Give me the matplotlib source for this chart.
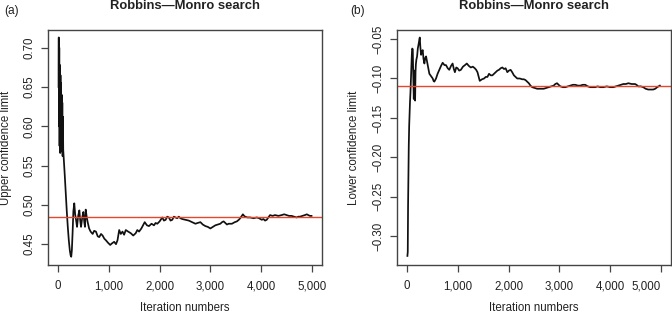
import matplotlib
matplotlib.use("Agg")
import matplotlib.pyplot as plt
from matplotlib.ticker import FuncFormatter

plt.rcParams["font.family"] = ["Liberation Sans", "DejaVu Sans"]

# panel (a): upper confidence limit, (iteration, value)
upper_points = [
    (8, 0.650), (12, 0.713), (16, 0.600), (22, 0.700), (28, 0.575), (34, 0.678),
    (40, 0.566), (46, 0.665), (52, 0.570), (58, 0.655), (64, 0.575), (70, 0.640),
    (76, 0.568), (82, 0.630), (88, 0.562), (94, 0.612), (100, 0.570), (110, 0.560),
    (130, 0.538), (150, 0.515), (170, 0.492), (190, 0.472), (210, 0.455), (230, 0.442),
    (245, 0.436), (258, 0.434), (270, 0.442), (285, 0.465), (300, 0.492), (318, 0.502),
    (335, 0.488), (355, 0.480), (372, 0.472), (395, 0.486), (418, 0.493), (435, 0.480),
    (451, 0.472), (475, 0.484), (497, 0.491), (515, 0.478), (529, 0.472), (543, 0.494),
    (562, 0.485), (582, 0.478), (610, 0.470), (640, 0.466), (680, 0.463), (710, 0.467),
    (745, 0.466), (780, 0.460), (810, 0.459), (845, 0.463), (876, 0.461), (910, 0.457),
    (941, 0.455), (980, 0.452), (1026, 0.449), (1060, 0.451), (1104, 0.453), (1140, 0.450),
    (1170, 0.455), (1203, 0.468), (1235, 0.463), (1268, 0.466), (1300, 0.462), (1333, 0.468),
    (1380, 0.466), (1431, 0.464), (1480, 0.461), (1529, 0.464), (1560, 0.468), (1595, 0.466),
    (1640, 0.470), (1706, 0.478), (1750, 0.474), (1790, 0.473), (1840, 0.476), (1889, 0.474),
    (1920, 0.477), (1954, 0.476), (2000, 0.479), (2052, 0.484), (2085, 0.480), (2118, 0.481),
    (2150, 0.485), (2182, 0.484), (2215, 0.480), (2249, 0.481), (2280, 0.485), (2314, 0.484),
    (2345, 0.483), (2378, 0.485), (2410, 0.483), (2445, 0.482), (2510, 0.481), (2575, 0.480),
    (2640, 0.478), (2706, 0.476), (2750, 0.477), (2804, 0.478), (2850, 0.475), (2902, 0.473),
    (2950, 0.472), (3000, 0.470), (3050, 0.472), (3098, 0.474), (3150, 0.475), (3196, 0.476),
    (3230, 0.478), (3261, 0.479), (3295, 0.477), (3327, 0.475), (3360, 0.476), (3425, 0.476),
    (3480, 0.478), (3523, 0.479), (3560, 0.481), (3588, 0.483), (3620, 0.486), (3641, 0.488),
    (3665, 0.486), (3686, 0.485), (3730, 0.484), (3784, 0.484), (3850, 0.483), (3915, 0.484),
    (3960, 0.483), (4013, 0.481), (4045, 0.482), (4078, 0.480), (4110, 0.481), (4143, 0.484),
    (4176, 0.487), (4225, 0.486), (4275, 0.487), (4340, 0.486), (4405, 0.487), (4455, 0.488),
    (4503, 0.487), (4550, 0.486), (4601, 0.486), (4650, 0.485), (4699, 0.484), (4735, 0.485),
    (4765, 0.485), (4815, 0.486), (4863, 0.487), (4900, 0.488), (4928, 0.487), (4960, 0.486),
    (4994, 0.486),
]
upper_ref = 0.485

# panel (b): lower confidence limit, (iteration, value)
lower_points = [
    (5, -0.325), (12, -0.320), (18, -0.262), (25, -0.225), (32, -0.185), (40, -0.160),
    (48, -0.145), (56, -0.130), (65, -0.118), (75, -0.100), (85, -0.080), (92, -0.070),
    (100, -0.062), (111, -0.063), (120, -0.095), (131, -0.126), (138, -0.100), (144, -0.090),
    (150, -0.112), (157, -0.128), (165, -0.092), (172, -0.082), (182, -0.076), (196, -0.072),
    (210, -0.062), (222, -0.058), (235, -0.053), (241, -0.050), (249, -0.048), (260, -0.060),
    (275, -0.070), (290, -0.066), (307, -0.064), (322, -0.075), (340, -0.081), (356, -0.074),
    (373, -0.072), (390, -0.078), (406, -0.083), (420, -0.088), (438, -0.094), (470, -0.097),
    (504, -0.100), (520, -0.103), (536, -0.104), (552, -0.102), (569, -0.100), (600, -0.094),
    (634, -0.089), (668, -0.084), (700, -0.080), (735, -0.083), (765, -0.083), (800, -0.087),
    (830, -0.089), (865, -0.084), (896, -0.081), (920, -0.088), (941, -0.092), (968, -0.086),
    (994, -0.087), (1026, -0.090), (1059, -0.089), (1100, -0.085), (1140, -0.083), (1176, -0.081),
    (1215, -0.084), (1255, -0.086), (1295, -0.085), (1333, -0.087), (1360, -0.089), (1386, -0.092),
    (1410, -0.098), (1431, -0.103), (1475, -0.101), (1516, -0.100), (1549, -0.098), (1582, -0.098),
    (1614, -0.094), (1647, -0.096), (1680, -0.096), (1712, -0.094), (1745, -0.092), (1778, -0.090),
    (1810, -0.089), (1843, -0.087), (1876, -0.086), (1910, -0.088), (1941, -0.087), (1974, -0.092),
    (2005, -0.090), (2039, -0.089), (2070, -0.092), (2104, -0.096), (2137, -0.098), (2170, -0.100),
    (2220, -0.100), (2268, -0.101), (2300, -0.101), (2333, -0.102), (2365, -0.104), (2398, -0.106),
    (2430, -0.109), (2464, -0.111), (2510, -0.112), (2562, -0.113), (2630, -0.113), (2692, -0.113),
    (2740, -0.112), (2790, -0.111), (2840, -0.110), (2888, -0.109), (2920, -0.107), (2954, -0.106),
    (2985, -0.108), (3020, -0.110), (3070, -0.111), (3118, -0.111), (3165, -0.110), (3216, -0.109),
    (3265, -0.108), (3314, -0.108), (3365, -0.109), (3412, -0.109), (3460, -0.108), (3510, -0.108),
    (3560, -0.110), (3608, -0.111), (3655, -0.111), (3706, -0.111), (3755, -0.110), (3804, -0.111),
    (3870, -0.111), (3935, -0.110), (4000, -0.111), (4065, -0.111), (4115, -0.110), (4163, -0.109),
    (4210, -0.108), (4261, -0.107), (4310, -0.107), (4359, -0.106), (4425, -0.107), (4490, -0.107),
    (4520, -0.108), (4555, -0.110), (4605, -0.110), (4653, -0.111), (4700, -0.113), (4751, -0.114),
    (4800, -0.114), (4849, -0.114), (4890, -0.113), (4928, -0.111), (4955, -0.110), (4980, -0.109),
]
lower_ref = -0.110

x_ticks = [0, 1000, 2000, 3000, 4000, 5000]
upper_ticks = [0.45, 0.50, 0.55, 0.60, 0.65, 0.70]
lower_ticks = [-0.30, -0.25, -0.20, -0.15, -0.10, -0.05]

COLOR_LINE = "#111111"
COLOR_REF = "#e5462d"
COLOR_BOX = "#444444"
COLOR_TEXT = "#222222"
FS = 8.3

fig = plt.figure(figsize=(6.72, 3.16), dpi=100)


def style_axes(ax, yticks, ylim):
    ax.set_xlim(-200, 5200)
    ax.set_ylim(*ylim)
    ax.set_xticks(x_ticks)
    ax.xaxis.set_major_formatter(FuncFormatter(lambda v, p: f"{int(v):,}"))
    ax.set_yticks(yticks)
    ax.yaxis.set_major_formatter(FuncFormatter(lambda v, p: f"{v:.2f}".replace("-", "\u2212")))
    for lab in ax.get_yticklabels():
        lab.set_rotation(90)
        lab.set_va("center")
    ax.tick_params(direction="out", length=5, width=0.9, color=COLOR_BOX,
                   labelsize=FS, labelcolor=COLOR_TEXT)
    ax.tick_params(axis="x", pad=6)
    ax.tick_params(axis="y", pad=4)
    for s in ax.spines.values():
        s.set_color(COLOR_BOX)
        s.set_linewidth(1.0)


def draw_panel(rect, points, ref, yticks, ylim, ylabel, ylabel_x, tag, tag_x):
    ax = fig.add_axes(rect)
    xs = [p[0] for p in points]
    ys = [p[1] for p in points]
    ax.plot(xs, ys, color=COLOR_LINE, lw=1.25)
    ax.axhline(ref, color=COLOR_REF, lw=1.0)
    style_axes(ax, yticks, ylim)
    cx = rect[0] + rect[2] / 2
    fig.text(cx, 1 - 308 / 316, "Iteration numbers", fontsize=FS,
             ha="center", va="center", color=COLOR_TEXT)
    fig.text(ylabel_x / 672, 0.533, ylabel, rotation=90, fontsize=FS,
             ha="center", va="center", color=COLOR_TEXT)
    fig.text(cx, 1 - 6 / 316, "Robbins\u2014Monro search", fontsize=9.4,
             fontweight="bold", ha="center", va="center", color=COLOR_TEXT)
    fig.text(tag_x / 672, 1 - 11 / 316, tag, fontsize=FS + 0.3, ha="left", va="center",
             color=COLOR_TEXT)
    return ax


draw_panel([48 / 672, 51 / 316, 274 / 672, 235 / 316], upper_points, upper_ref,
           upper_ticks, (0.4235, 0.7225), "Upper confidence limit", 6, "(a)", 4)
ax_b = draw_panel([397 / 672, 51 / 316, 274 / 672, 235 / 316], lower_points, lower_ref,
                  lower_ticks, (-0.3365, -0.0385), "Lower confidence limit", 354, "(b)", 350)
# the last label sits against the right edge of the picture
ax_b.get_xticklabels()[-1].set_horizontalalignment("right")
ax_b.get_xticklabels()[-1].set_x(5000 + 260)

fig.savefig("out.png", dpi=100)
